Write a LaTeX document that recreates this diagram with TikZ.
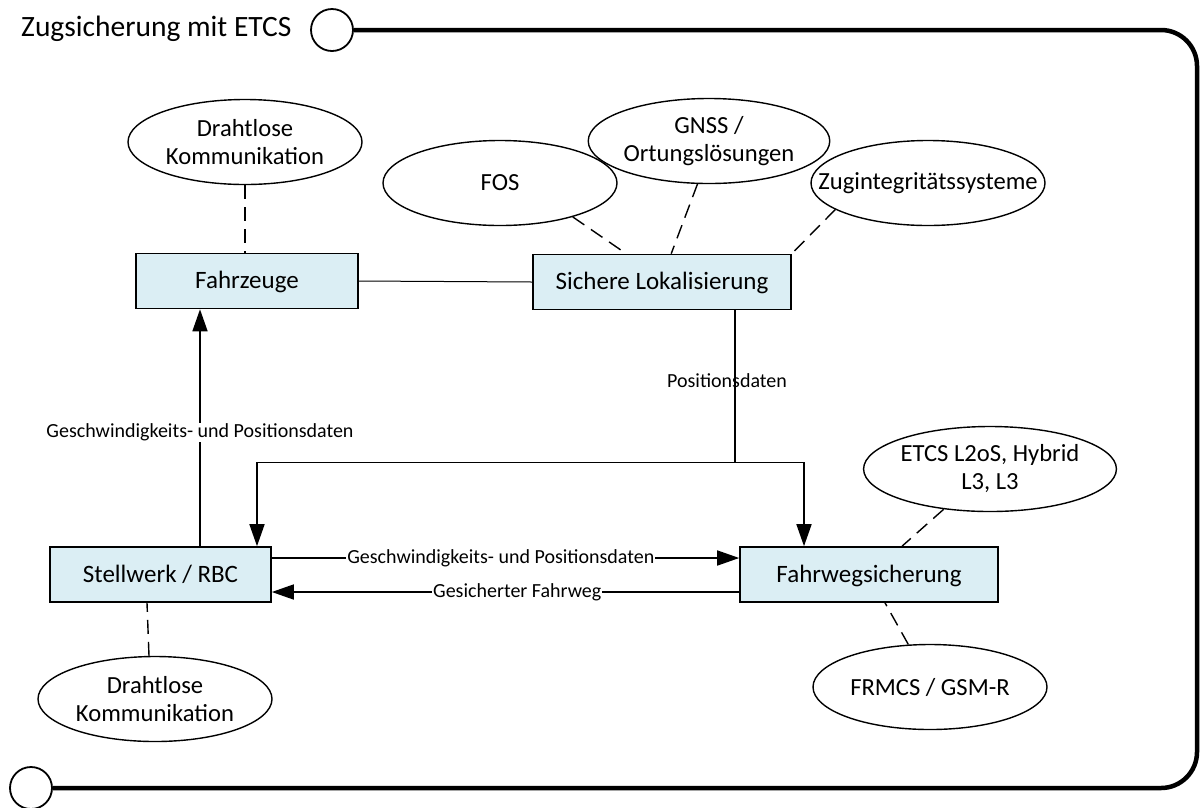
\documentclass[tikz,border=0pt]{standalone}
\usepackage{fontspec}
\setmainfont{Carlito}
\usetikzlibrary{arrows.meta,shapes.geometric}
\definecolor{boxblue}{RGB}{219,238,244}
\begin{document}
\begin{tikzpicture}[x=1pt,y=-1pt,
  every node/.style={inner sep=0pt},
  procbox/.style={draw=black, line width=1.6pt, fill=boxblue,
    font=\fontsize{25}{29}\selectfont, minimum height=55pt,
    text height=18pt, text depth=2.5pt},
  topic/.style={ellipse, draw=black, line width=1.4pt, fill=white,
    minimum width=234pt, minimum height=85pt, align=center,
    font=\fontsize{24.6}{28}\selectfont},
  flow/.style={line width=1.6pt, -{Triangle[length=22pt,width=15pt]}},
  link/.style={line width=1.4pt, dash pattern=on 14pt off 8pt},
  flowlabel/.style={font=\fontsize{20}{23}\selectfont, fill=white, inner sep=1pt},
  portcircle/.style={circle, draw=black, line width=1.8pt, fill=white, minimum size=42pt}
]
\useasboundingbox (0,0) rectangle (1201,807);

% frame with title and end circles
\node[anchor=west, font=\fontsize{29.5}{33}\selectfont] (title) at (21,29) {Zugsicherung mit ETCS};
\node[portcircle] (ctop) at (332,30) {};
\node[portcircle] (cbot) at (31,788) {};
\draw[line width=4.5pt, rounded corners=36pt] (ctop.east) -- (1197,30) -- (1197,788) -- (cbot.east);

% process boxes
\node[procbox, minimum width=222pt] (fz)  at (247,281)   {Fahrzeuge};
\node[procbox, minimum width=258pt] (lok) at (662,282)   {Sichere Lokalisierung};
\node[procbox, minimum width=221pt] (stw) at (160.5,574.5) {Stellwerk / RBC};
\node[procbox, minimum width=258pt] (fws) at (869,574.5) {Fahrwegsicherung};

% surrounding topics
\node[topic] (dk1)  at (245,142) {Drahtlose\\Kommunikation};
\node[topic] (fos)  at (500,183) {FOS};
\node[topic] (gnss) at (709,141) {GNSS /\\Ortungslösungen};
\node[topic] (zug) at (928,183) {\makebox[0pt][c]{Zugintegritätssysteme}};
\node[topic] (etcs) at (990,469) {ETCS L2oS, Hybrid\\L3, L3};
\node[topic] (frm)  at (930,687) {FRMCS / GSM-R};
\node[topic] (dk2)  at (155,699) {Drahtlose\\Kommunikation};

% dashed associations
\draw[link] (dk1.south) -- ([xshift=-2pt]fz.north);
\draw[link] (fos.-25) -- ([xshift=94pt]lok.north west);
\draw[link] (gnss.-105.6) -- ([xshift=139pt]lok.north west);
\draw[link] (zug.196) -- (lok.north east);
\draw[link] (etcs.221.8) -- ([xshift=33pt]fws.north);
\draw[link] (frm.117.6) -- ([xshift=16pt]fws.south);
\draw[link] ([xshift=-6pt]dk2.north) -- ([xshift=-13.5pt]stw.south);

% plain link between vehicles and localisation
\draw[line width=1pt] (fz.east) -- (lok.west);

% data flows
\draw[flow] ([xshift=39.5pt]stw.north) -- node[flowlabel, pos=0.48] {Geschwindigkeits- und Positionsdaten} ([xshift=-47pt]fz.south);

\coordinate (split) at ([xshift=73pt,yshift=-152pt]lok.south);
\draw[line width=1.6pt] ([xshift=73pt]lok.south) -- (split);
\node[font=\fontsize{20}{23}\selectfont] (posl) at (727,381) {Positionsdaten};
\draw[flow] (split) -| ([xshift=96.5pt]stw.north);
\draw[flow] (split) -| ([xshift=-65pt]fws.north);

\draw[flow] ([yshift=16.5pt]stw.east) -- node[flowlabel, pos=0.49] {Geschwindigkeits- und Positionsdaten} ([yshift=16.5pt]fws.west);
\draw[flow] ([yshift=-17.5pt]fws.west) -- node[flowlabel, pos=0.475] {Gesicherter Fahrweg} ([yshift=-17.5pt]stw.east);
\end{tikzpicture}
\end{document}
